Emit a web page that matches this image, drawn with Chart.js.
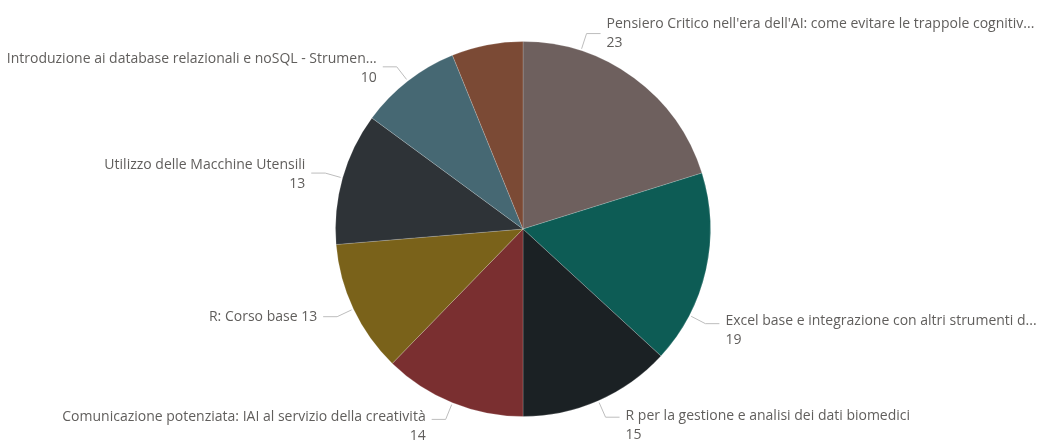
<!DOCTYPE html>
<html>
<head>
<meta charset="utf-8">
<script src="https://cdn.jsdelivr.net/npm/chart.js@4/dist/chart.umd.min.js"></script>
<style>
  html, body { margin: 0; padding: 0; background: #ffffff; }
  #wrap { width: 1038px; height: 442px; position: relative; }
</style>
</head>
<body>
<div id="wrap"><canvas id="pie"></canvas></div>
<script>
// Courses and their enrolment counts, clockwise from 12 o'clock
const courses = [
  "Pensiero Critico nell'era dell'AI: come evitare le trappole cognitiv...",
  "Excel base e integrazione con altri strumenti d...",
  "R per la gestione e analisi dei dati biomedici",
  "Comunicazione potenziata: IAI al servizio della creatività",
  "R: Corso base",
  "Utilizzo delle Macchine Utensili",
  "Introduzione ai database relazionali e noSQL - Strumen...",
  "Altro"
];
const enrolments = [23, 19, 15, 14, 13, 13, 10, 7];
const sliceColors = ["#6e605e", "#0d5c55", "#1b2124", "#7a2f30", "#7a621a", "#2e3337", "#466873", "#7b4a35"];

// Label layout: angular shift of the leader (degrees), text block vertical shift,
// whether name and value share one line, and whether the label is shown.
const labelShift  = [-18.3, 14.8, 0, 0, 0, 0, 0, 0];
const labelDy     = [-10, -3, -1, -2, 0, -8, -8, 0];
const singleLine  = [false, false, false, false, true, false, false, false];
const labelShown  = [true, true, true, true, true, true, true, false];

const FONT = "14px 'Open Sans', 'Noto Sans', sans-serif";
const TEXT_COLOR = "#605e5c";
const LINE_COLOR = "#bdbdbd";

const leaderLabels = {
  id: 'leaderLabels',
  afterDatasetsDraw(chart) {
    const ctx = chart.ctx;
    const meta = chart.getDatasetMeta(0);
    ctx.save();
    ctx.font = FONT;
    ctx.textBaseline = 'middle';
    meta.data.forEach((arc, i) => {
      if (!labelShown[i]) return;
      const p = arc.getProps(['x', 'y', 'startAngle', 'endAngle', 'outerRadius'], true);
      const a = (p.startAngle + p.endAngle) / 2 + labelShift[i] * Math.PI / 180;
      const cos = Math.cos(a), sin = Math.sin(a);
      const r0 = p.outerRadius + 2;
      const x0 = p.x + r0 * cos, y0 = p.y + r0 * sin;
      const x1 = p.x + (r0 + 16) * cos, y1 = p.y + (r0 + 16) * sin;
      const right = cos >= 0;
      const x2 = x1 + (right ? 14 : -14);
      ctx.strokeStyle = LINE_COLOR;
      ctx.lineWidth = 1;
      ctx.beginPath();
      ctx.moveTo(x0, y0);
      ctx.lineTo(x1, y1);
      ctx.lineTo(x2, y1);
      ctx.stroke();
      ctx.fillStyle = TEXT_COLOR;
      ctx.textAlign = right ? 'left' : 'right';
      const tx = x2 + (right ? 6 : -6);
      const ty = y1 + labelDy[i];
      const name = chart.data.labels[i];
      const val = String(chart.data.datasets[0].data[i]);
      if (singleLine[i]) {
        ctx.fillText(name + ' ' + val, tx, ty);
      } else {
        ctx.fillText(name, tx, ty);
        ctx.fillText(val, tx, ty + 19);
      }
    });
    ctx.restore();
  }
};

new Chart(document.getElementById('pie'), {
  type: 'pie',
  data: {
    labels: courses,
    datasets: [{
      data: enrolments,
      backgroundColor: sliceColors,
      borderColor: 'rgba(255,255,255,0.18)',
      borderWidth: 1
    }]
  },
  options: {
    responsive: true,
    maintainAspectRatio: false,
    animation: false,
    layout: { padding: { top: 41, bottom: 25, left: 8, right: 0 } },
    plugins: {
      legend: { display: false },
      tooltip: { enabled: false }
    }
  },
  plugins: [leaderLabels]
});
</script>
</body>
</html>
